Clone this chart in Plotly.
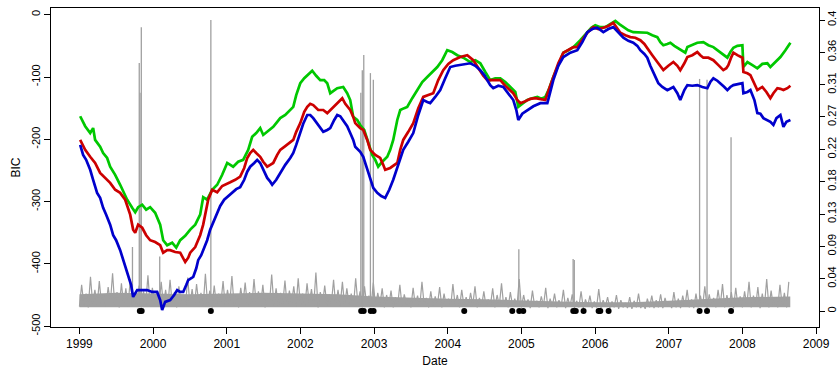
import plotly.graph_objects as go

# ---------------- data ----------------
green_t = [1999.010,1999.078,1999.146,1999.186,1999.213,1999.281,1999.322,1999.376,1999.417,1999.485,1999.553,1999.648,1999.716,1999.757,1999.797,1999.852,1999.906,1999.960,
2000.028,2000.096,2000.137,2000.191,2000.259,2000.314,2000.368,2000.436,2000.504,2000.572,2000.639,2000.680,2000.734,2000.802,2000.870,2000.938,
2001.006,2001.087,2001.155,2001.223,2001.291,2001.345,2001.400,2001.454,2001.495,2001.549,2001.590,2001.631,2001.685,2001.726,2001.794,2001.862,2001.903,2001.943,
2001.998,2002.052,2002.093,2002.160,2002.214,2002.269,2002.323,2002.364,2002.405,2002.459,2002.500,2002.581,2002.635,2002.676,2002.717,2002.771,2002.812,2002.866,2002.907,2002.948,2002.975,
2003.016,2003.056,2003.111,2003.179,2003.219,2003.260,2003.315,2003.355,2003.409,2003.450,2003.518,2003.586,2003.654,2003.722,2003.790,2003.858,2003.925,2003.993,
2004.061,2004.129,2004.211,2004.306,2004.374,2004.442,2004.510,2004.577,2004.645,2004.713,2004.781,2004.849,2004.917,2004.958,
2005.012,2005.080,2005.148,2005.216,2005.271,2005.325,2005.379,2005.433,2005.501,2005.569,2005.637,2005.705,2005.800,2005.895,2005.949,
2006.003,2006.071,2006.139,2006.207,2006.275,2006.329,2006.384,2006.452,2006.519,2006.614,2006.709,2006.777,2006.845,2006.886,2006.927,2006.981,
2007.022,2007.076,2007.117,2007.171,2007.225,2007.253,2007.320,2007.388,2007.470,2007.538,2007.606,2007.660,2007.701,2007.755,2007.796,2007.837,2007.878,2007.932,2007.973,
2008.000,2008.014,2008.068,2008.136,2008.203,2008.271,2008.339,2008.380,2008.448,2008.516,2008.584,2008.652]
green_v = [-163,-179,-190,-182,-201,-212,-222,-230,-244,-257,-273,-297,-310,-317,-309,-305,-313,-309,
-318,-337,-362,-370,-366,-374,-362,-355,-345,-337,-321,-293,-297,-281,-273,-257,
-238,-244,-236,-233,-217,-196,-190,-182,-193,-188,-185,-180,-172,-166,-161,-153,-148,-129,
-110,-102,-97,-90,-98,-105,-105,-110,-126,-121,-118,-116,-126,-137,-164,-169,-177,-185,-201,-214,-225,
-233,-244,-236,-228,-217,-201,-169,-153,-150,-148,-134,-121,-108,-100,-92,-84,-73,-57,
-60,-65,-69,-76,-73,-78,-92,-105,-102,-102,-108,-116,-124,-148,
-143,-137,-134,-132,-135,-132,-118,-100,-81,-61,-57,-52,-41,-28,-21,
-17,-20,-20,-15,-10,-15,-20,-25,-28,-28,-29,-33,-36,-44,-49,-47,
-45,-50,-53,-57,-61,-52,-49,-45,-44,-49,-52,-57,-61,-66,-69,-60,-53,-50,-49,
-49,-84,-76,-81,-86,-79,-78,-84,-76,-68,-57,-45]

red_t = [1999.010,1999.078,1999.146,1999.213,1999.281,1999.349,1999.417,1999.485,1999.553,1999.621,1999.689,1999.729,1999.757,1999.797,1999.852,1999.906,1999.960,
2000.028,2000.096,2000.137,2000.191,2000.232,2000.300,2000.368,2000.409,2000.436,2000.477,2000.504,2000.572,2000.612,2000.639,2000.680,2000.721,2000.748,2000.802,2000.870,2000.938,
2001.006,2001.047,2001.115,2001.182,2001.237,2001.278,2001.318,2001.359,2001.400,2001.454,2001.495,2001.549,2001.590,2001.631,2001.685,2001.726,2001.794,2001.862,2001.903,2001.943,
2001.998,2002.052,2002.093,2002.133,2002.174,2002.242,2002.310,2002.364,2002.405,2002.459,2002.500,2002.568,2002.609,2002.676,2002.717,2002.744,2002.812,2002.853,2002.907,2002.948,
2003.016,2003.083,2003.124,2003.151,2003.219,2003.274,2003.315,2003.355,2003.396,2003.464,2003.532,2003.600,2003.668,2003.736,2003.803,2003.871,2003.939,
2004.007,2004.075,2004.170,2004.265,2004.347,2004.415,2004.482,2004.537,2004.618,2004.713,2004.781,2004.849,2004.889,2004.944,2004.985,
2005.053,2005.121,2005.189,2005.257,2005.325,2005.379,2005.433,2005.501,2005.569,2005.637,2005.705,2005.759,2005.827,2005.895,2005.976,
2006.044,2006.112,2006.180,2006.248,2006.302,2006.343,2006.411,2006.479,2006.546,2006.614,2006.669,2006.709,2006.777,2006.845,2006.886,2006.927,2006.995,
2007.063,2007.117,2007.157,2007.212,2007.253,2007.320,2007.388,2007.429,2007.470,2007.538,2007.606,2007.674,2007.741,2007.782,2007.809,2007.850,2007.878,2007.932,2007.973,
2008.000,2008.014,2008.068,2008.109,2008.163,2008.203,2008.244,2008.271,2008.326,2008.380,2008.421,2008.475,2008.516,2008.557,2008.611,2008.652]
red_v = [-201,-217,-228,-238,-254,-262,-270,-281,-286,-297,-321,-345,-350,-337,-342,-354,-362,
-365,-370,-382,-378,-378,-381,-382,-390,-397,-390,-382,-373,-362,-354,-337,-313,-297,-281,-285,-275,
-272,-269,-265,-260,-246,-230,-222,-217,-222,-228,-236,-244,-241,-238,-225,-217,-211,-204,-201,-188,
-174,-156,-148,-143,-145,-153,-153,-158,-153,-147,-143,-134,-143,-153,-164,-174,-182,-185,-201,-217,
-225,-230,-241,-249,-246,-241,-238,-217,-201,-188,-174,-150,-132,-129,-126,-105,-89,
-79,-73,-68,-65,-73,-86,-98,-105,-105,-105,-114,-121,-126,-137,-142,
-139,-135,-134,-135,-137,-118,-100,-78,-61,-57,-52,-52,-41,-29,-20,
-23,-21,-18,-13,-21,-29,-33,-36,-37,-41,-47,-53,-65,-76,-82,-89,-82,
-76,-82,-89,-78,-68,-65,-60,-65,-69,-69,-73,-81,-89,-86,-81,-68,-61,-65,-68,
-69,-92,-94,-97,-110,-121,-118,-116,-124,-134,-126,-118,-119,-121,-118,-114]

blue_t = [1999.010,1999.050,1999.091,1999.146,1999.186,1999.240,1999.281,1999.322,1999.363,1999.417,1999.458,1999.498,1999.553,1999.593,1999.634,1999.661,1999.702,1999.729,1999.757,1999.784,1999.852,1999.919,1999.987,
2000.055,2000.096,2000.123,2000.164,2000.232,2000.286,2000.327,2000.368,2000.409,2000.450,2000.477,2000.545,2000.586,2000.612,2000.653,2000.680,2000.707,2000.734,2000.775,2000.816,2000.870,2000.911,2000.965,
2001.006,2001.074,2001.128,2001.182,2001.237,2001.278,2001.318,2001.373,2001.413,2001.454,2001.495,2001.549,2001.590,2001.617,2001.672,2001.726,2001.794,2001.862,2001.903,2001.943,
2001.998,2002.038,2002.093,2002.133,2002.174,2002.242,2002.310,2002.364,2002.405,2002.459,2002.500,2002.541,2002.581,2002.635,2002.676,2002.717,2002.744,2002.812,2002.853,2002.894,2002.948,2002.989,
2003.043,2003.097,2003.151,2003.206,2003.260,2003.328,2003.396,2003.464,2003.532,2003.600,2003.668,2003.722,2003.762,2003.830,2003.898,2003.966,
2004.034,2004.102,2004.170,2004.238,2004.306,2004.374,2004.442,2004.496,2004.537,2004.577,2004.618,2004.686,2004.754,2004.822,2004.890,2004.931,2004.958,
2005.012,2005.080,2005.162,2005.257,2005.311,2005.352,2005.392,2005.433,2005.501,2005.569,2005.664,2005.759,2005.827,2005.895,2005.963,
2006.030,2006.112,2006.180,2006.248,2006.316,2006.384,2006.452,2006.519,2006.574,2006.614,2006.669,2006.709,2006.750,2006.791,2006.832,2006.859,2006.913,2006.981,
2007.022,2007.063,2007.117,2007.157,2007.212,2007.253,2007.320,2007.388,2007.456,2007.524,2007.565,2007.606,2007.660,2007.701,2007.755,2007.796,2007.837,2007.878,2007.946,
2008.000,2008.014,2008.068,2008.109,2008.163,2008.203,2008.244,2008.285,2008.339,2008.380,2008.421,2008.462,2008.516,2008.543,2008.557,2008.597,2008.652]
blue_v = [-209,-225,-233,-249,-265,-286,-294,-310,-321,-337,-354,-362,-378,-394,-407,-421,-434,-453,-447,-442,-442,-442,-445,
-445,-458,-474,-461,-458,-450,-442,-445,-445,-434,-426,-421,-407,-394,-386,-378,-370,-362,-345,-333,-317,-307,-297,
-293,-285,-280,-277,-265,-252,-244,-238,-233,-238,-249,-262,-268,-273,-265,-254,-241,-230,-222,-209,
-190,-175,-161,-161,-166,-177,-188,-185,-182,-169,-161,-163,-169,-179,-190,-201,-212,-220,-228,-244,-265,-278,
-286,-291,-294,-281,-265,-241,-217,-204,-190,-161,-137,-140,-142,-132,-121,-102,
-84,-82,-81,-79,-78,-82,-89,-97,-105,-113,-118,-114,-116,-126,-137,-153,-169,
-159,-153,-147,-142,-142,-142,-124,-105,-82,-68,-61,-57,-44,-28,-23,
-21,-28,-23,-20,-28,-37,-42,-45,-50,-57,-63,-69,-82,-94,-103,-110,-116,-121,
-118,-116,-126,-137,-121,-113,-114,-113,-116,-118,-108,-102,-106,-110,-116,-121,-116,-113,-111,
-110,-126,-124,-121,-137,-158,-159,-166,-169,-172,-177,-166,-161,-177,-180,-172,-169]

# gray series (right axis), one value every 0.03 yr starting 1999.0
gray_v = [
.006,.036,.008,.024,.005,.047,.010,.029,.007,.041,.009,.022,.006,.033,.011,.052,.007,.026,.005,.038,
.008,.031,.006,.044,.010,.023,.007,.035,.005,.027,.009,.049,.006,.032,.011,.024,.007,.040,.008,.029,
.006,.043,.009,.026,.005,.034,.010,.021,.007,.046,.008,.030,.006,.037,.011,.025,.007,.051,.009,.028,
.005,.035,.008,.024,.010,.041,.006,.029,.009,.048,.007,.023,.005,.032,.010,.039,.008,.026,.006,.044,
.009,.027,.007,.036,.005,.022,.010,.050,.008,.031,.006,.025,.009,.042,.007,.028,.011,.034,.006,.045,
.008,.024,.006,.038,.010,.030,.007,.053,.005,.026,.009,.035,.007,.023,.010,.043,.006,.029,.008,.040,
.007,.031,.009,.024,.006,.045,.010,.027,.005,.034,.008,.021,.007,.039,.006,.025,.009,.031,.005,.022,
.007,.028,.005,.019,.008,.036,.006,.023,.009,.017,.005,.032,.007,.021,.006,.040,.008,.018,.005,.027,
.006,.020,.008,.033,.005,.024,.007,.017,.006,.037,.008,.022,.005,.029,.007,.019,.006,.025,.008,.034,
.005,.018,.007,.027,.006,.016,.008,.031,.005,.022,.007,.038,.006,.019,.005,.026,.007,.017,.006,.044,
.005,.022,.007,.016,.004,.028,.006,.014,.005,.020,.007,.032,.004,.017,.006,.024,.005,.015,.006,.029,
.004,.018,.006,.023,.004,.014,.005,.027,.004,.016,.006,.021,.004,.013,.005,.030,.004,.015,.006,.019,
.004,.013,.005,.022,.003,.015,.005,.011,.004,.019,.003,.014,.005,.024,.004,.012,.003,.017,.005,.021,
.004,.015,.005,.023,.004,.018,.006,.013,.004,.026,.005,.017,.004,.021,.006,.029,.005,.016,.004,.024,
.005,.021,.006,.034,.004,.023,.006,.018,.005,.029,.007,.037,.005,.022,.006,.026,.004,.032,.006,.020,
.005,.027,.007,.040,.005,.021,.006,.033,.004,.024,.007,.044,.005,.028,.006,.019,.005,.036,.007,.025,
.005,.040]

# dense core of the gray band (lower / upper edge), every half year
core_t = [1999.0,1999.5,2000.0,2000.5,2001.0,2001.5,2002.0,2002.5,2003.0,2003.5,2004.0,2004.5,2005.0,2005.5,2006.0,2006.5,2007.0,2007.5,2008.0,2008.65]
core_lo = [.005,.005,.005,.005,.005,.005,.005,.005,.005,.005,.005,.005,.004,.004,.004,.004,.004,.005,.005,.005]
core_hi = [.023,.025,.024,.023,.024,.025,.024,.023,.020,.018,.017,.016,.014,.013,.012,.012,.014,.017,.019,.020]

spike_t = [1999.720,1999.812,1999.822,1999.840,2000.090,2000.784,2002.820,2002.840,2002.860,2002.950,2002.990,2004.965,2005.702,2005.718,2007.419,2007.520,2007.846]
spike_v = [0.088,0.341,0.300,0.390,0.075,0.400,0.300,0.331,0.352,0.327,0.318,0.085,0.0715,0.070,0.319,0.318,0.239]

dot_t = [1999.820,1999.845,2000.784,2002.825,2002.859,2002.955,2002.993,2004.224,2004.876,2004.971,2005.025,2005.704,2005.738,2005.844,2006.048,2006.071,2006.184,2007.419,2007.520,2007.846]
dot_v = [0]*len(dot_t)

year_ticks = list(range(1999, 2010))
bic_ticks = [0, -100, -200, -300, -400, -500]
bic_labels = ["0", "-100", "-200", "-300", "-400", "-500"]
right_ticks = [0, 0.0444, 0.0889, 0.1333, 0.1778, 0.2222, 0.2667, 0.3111, 0.3556, 0.4]
right_labels = ["0", "0.04", "0.09", "0.13", "0.18", "0.22", "0.27", "0.31", "0.36", "0.4"]

# ---------------- figure ----------------
GRAY = "#A0A0A0"
FONT = "Liberation Sans, Arial, Helvetica, sans-serif"
gray_t = [round(1999 + 0.03 * i, 3) for i in range(len(gray_v))]

fig = go.Figure()
fig.add_trace(go.Scatter(x=core_t, y=core_lo, mode="lines", line=dict(width=0, color=GRAY),
                         yaxis="y", hoverinfo="skip", showlegend=False))
fig.add_trace(go.Scatter(x=core_t, y=core_hi, mode="lines", line=dict(width=0, color=GRAY),
                         fill="tonexty", fillcolor=GRAY, yaxis="y", hoverinfo="skip", showlegend=False))
fig.add_trace(go.Scatter(x=gray_t, y=gray_v, mode="lines", line=dict(width=1.2, color=GRAY),
                         yaxis="y", showlegend=False))
sx, sy = [], []
for t, v in zip(spike_t, spike_v):
    sx += [t, t, None]
    sy += [0.008, v, None]
fig.add_trace(go.Scatter(x=sx, y=sy, mode="lines", line=dict(width=1.3, color=GRAY), yaxis="y", showlegend=False))
fig.add_trace(go.Scatter(x=dot_t, y=dot_v, mode="markers", marker=dict(size=6, color="black"), yaxis="y", showlegend=False))

fig.add_trace(go.Scatter(x=green_t, y=green_v, mode="lines", line=dict(width=2.7, color="#00C800"), yaxis="y2", showlegend=False))
fig.add_trace(go.Scatter(x=red_t, y=red_v, mode="lines", line=dict(width=2.7, color="#CC0000"), yaxis="y2", showlegend=False))
fig.add_trace(go.Scatter(x=blue_t, y=blue_v, mode="lines", line=dict(width=2.7, color="#0000CC"), yaxis="y2", showlegend=False))

axis_common = dict(showgrid=False, zeroline=False, ticks="outside", tickcolor="black",
                   tickwidth=1, linecolor="black", linewidth=1, showline=True)

fig.update_layout(
    width=838, height=369,
    margin=dict(l=51, r=19, t=8, b=42, autoexpand=False),
    paper_bgcolor="white", plot_bgcolor="white",
    font=dict(family=FONT, size=12, color="black"),
    xaxis=dict(range=[1998.614, 2009.04], tickvals=year_ticks, ticktext=[str(y) for y in year_ticks],
               mirror=True, ticklen=6, tickfont=dict(family=FONT, size=12, color="black"),
               title=dict(text="Date", font=dict(family=FONT, size=12), standoff=6),
               **axis_common),
    yaxis=dict(range=[-0.022, 0.4165], side="right", tickvals=right_ticks, ticktext=right_labels,
               tickangle=-90, ticklen=5, ticklabelstandoff=-2,
               tickfont=dict(family=FONT, size=11, color="black"), **axis_common),
    yaxis2=dict(range=[-501.3, 10.75], side="left", overlaying="y", tickvals=bic_ticks, ticktext=bic_labels,
                tickangle=-90, ticklen=6, tickfont=dict(family=FONT, size=11, color="black"),
                title=dict(text="BIC", font=dict(family=FONT, size=12), standoff=6),
                **axis_common),
)
fig.write_html("out.html")
